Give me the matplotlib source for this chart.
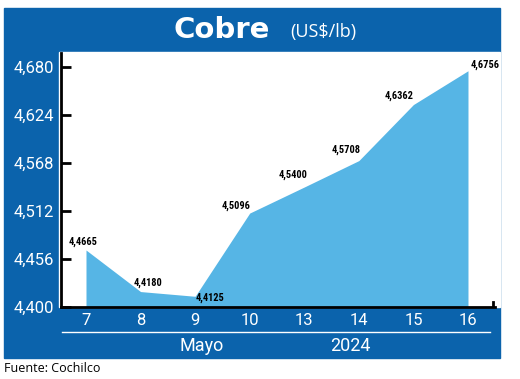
import matplotlib
matplotlib.use("Agg")
import matplotlib.pyplot as plt
from matplotlib.patches import Rectangle
from matplotlib import font_manager

# datos
dias = ["7", "8", "9", "10", "13", "14", "15", "16"]
precios = [4.4665, 4.4180, 4.4125, 4.5096, 4.5400, 4.5708, 4.6362, 4.6756]
etiquetas = ["4,4665", "4,4180", "4,4125", "4,5096", "4,5400", "4,5708", "4,6362", "4,6756"]
ticks_y = [4.400, 4.456, 4.512, 4.568, 4.624, 4.680]
ticks_y_txt = ["4,400", "4,456", "4,512", "4,568", "4,624", "4,680"]

# desplazamiento de etiquetas (puntos)
offs = [(-2, 6), (5, 6), (11, -1), (-10, 5), (-8, 9), (-9, 8), (-10, 6), (12, 4)]

AZUL = "#0B63AC"
CELESTE = "#56B5E5"

nombres = {f.name for f in font_manager.fontManager.ttflist}
narrow = "Roboto"
for nom in ["Liberation Sans Narrow", "Roboto Condensed"]:
    if nom in nombres:
        narrow = nom
        break

W, H = 520, 379
fig = plt.figure(figsize=(W / 100, H / 100), dpi=100)
fig.patch.set_facecolor("white")

def rect(x0, y0, x1, y1, color):
    # coordenadas en pixeles desde arriba-izquierda
    fig.patches.append(Rectangle((x0 / W, 1 - y1 / H), (x1 - x0) / W, (y1 - y0) / H,
                                 transform=fig.transFigure, color=color, zorder=-5))

rect(4, 8, 500, 358, AZUL)
rect(59, 52, 500, 307, "white")

fig.text(222 / W, 1 - 30 / H, "Cobre", color="white", fontsize=21, fontweight="bold",
         family="DejaVu Sans", ha="center", va="center")
fig.text(323 / W, 1 - 32 / H, "(US$/lb)", color="white", fontsize=13,
         family="Open Sans", ha="center", va="center")

ax = fig.add_axes([61 / W, 1 - 307 / H, (495 - 61) / W, (307 - 53) / H])
ax.set_facecolor("none")
x = list(range(len(dias)))
ax.fill_between(x, precios, 4.4, color=CELESTE, linewidth=0, zorder=1)

for i in range(len(dias)):
    ax.annotate(etiquetas[i], (x[i], precios[i]), xytext=offs[i], textcoords="offset points",
                ha="center", va="center", fontsize=7.5, fontweight="bold", family=narrow,
                color="black")

ax.set_xlim(-0.458, 7.495)
ax.set_ylim(4.400, 4.680 + 14 / 240 * 0.28)
ax.set_yticks(ticks_y)
ax.set_yticklabels(ticks_y_txt, color="white", fontsize=12, family="Roboto")
ax.set_xticks(x)
ax.set_xticklabels(dias, color="white", fontsize=12, family="Roboto")
ax.tick_params(axis="y", direction="in", length=7, width=2, pad=5)
ax.tick_params(axis="x", length=0, pad=4)
for s in ["top", "right"]:
    ax.spines[s].set_visible(False)
ax.spines["left"].set_linewidth(2)
ax.spines["bottom"].set_linewidth(2)
ax.axvline(7.45, ymin=0, ymax=0.02, color="black", linewidth=2)

# linea blanca y textos de abajo
fig.lines.append(plt.Line2D([62 / W, 490 / W], [1 - 332 / H, 1 - 332 / H],
                            transform=fig.transFigure, color="white", linewidth=1))
fig.text(202 / W, 1 - 346 / H, "Mayo", color="white", fontsize=13, family="Roboto",
         ha="center", va="center")
fig.text(350 / W, 1 - 346 / H, "2024", color="white", fontsize=13, family="Roboto",
         ha="center", va="center")
fig.text(4 / W, 1 - 369 / H, "Fuente: Cochilco", color="black", fontsize=9,
         family="Open Sans", ha="left", va="center")

fig.savefig("out.png", dpi=100)
